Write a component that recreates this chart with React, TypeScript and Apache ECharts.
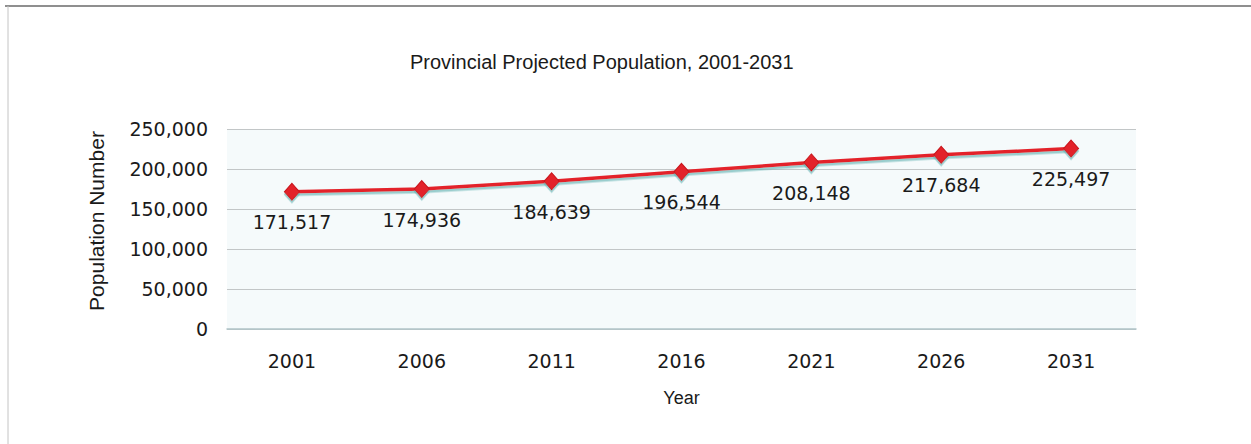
import React, { useEffect, useRef } from "react";
import * as echarts from "echarts";

const years: string[] = ["2001", "2006", "2011", "2016", "2021", "2026", "2031"];
const population: number[] = [171517, 174936, 184639, 196544, 208148, 217684, 225497];
const yTicks = { min: 0, max: 250000, interval: 50000 };
const titleText = "Provincial Projected Population, 2001-2031";
const yAxisName = "Population Number";
const xAxisName = "Year";

const fmt = (v: number) => v.toLocaleString("en-US");

export default function App() {
  const ref = useRef<HTMLDivElement>(null);
  useEffect(() => {
    document.body.style.margin = "0";
    const chart = echarts.init(ref.current!, null, { renderer: "svg" });
    chart.setOption({
      animation: false,
      backgroundColor: "#ffffff",
      title: {
        text: titleText,
        left: 405,
        top: 47,
        textStyle: {
          fontFamily: "Liberation Sans",
          fontSize: 20,
          fontWeight: "normal",
          color: "#1a1a1a",
        },
      },
      graphic: [
        {
          type: "line",
          shape: { x1: 5, y1: 6, x2: 1251, y2: 6 },
          style: { stroke: "#6a6a6a", lineWidth: 1.5 },
        },
        {
          type: "line",
          shape: { x1: 8, y1: 6, x2: 8, y2: 444 },
          style: { stroke: "#c4c4c4", lineWidth: 1 },
        },
      ],
      grid: {
        left: 227,
        right: 115,
        top: 129,
        bottom: 115,
        show: true,
        backgroundColor: "#f5fafb",
        borderWidth: 0,
      },
      xAxis: {
        type: "category",
        data: years,
        boundaryGap: true,
        name: xAxisName,
        nameLocation: "middle",
        nameGap: 60,
        nameTextStyle: {
          fontFamily: "Liberation Sans",
          fontSize: 18,
          color: "#1a1a1a",
        },
        axisTick: { show: false },
        axisLine: { show: true, lineStyle: { color: "#b0c4c8", width: 1.5 } },
        axisLabel: {
          margin: 22,
          fontFamily: "DejaVu Sans",
          fontSize: 19,
          color: "#1a1a1a",
        },
      },
      yAxis: {
        type: "value",
        min: yTicks.min,
        max: yTicks.max,
        interval: yTicks.interval,
        name: yAxisName,
        nameLocation: "middle",
        nameGap: 120,
        nameTextStyle: {
          fontFamily: "Liberation Sans",
          fontSize: 21,
          color: "#1a1a1a",
          padding: [0, 0, 0, 16],
        },
        axisLine: { show: false },
        axisTick: { show: false },
        splitLine: { show: true, lineStyle: { color: "#c2c6c7", width: 1 } },
        axisLabel: {
          margin: 19,
          fontFamily: "DejaVu Sans",
          fontSize: 19,
          color: "#1a1a1a",
          formatter: (v: number) => fmt(v),
        },
      },
      series: [
        {
          type: "line",
          data: population,
          symbol: "diamond",
          symbolSize: [15, 17],
          lineStyle: {
            color: "#e3232a",
            width: 3.5,
            shadowColor: "rgba(90,175,175,0.6)",
            shadowOffsetY: 2.5,
            shadowBlur: 1,
          },
          itemStyle: {
            color: "#e3232a",
            borderColor: "#c8151c",
            borderWidth: 1,
            shadowColor: "rgba(90,175,175,0.6)",
            shadowOffsetY: 2.5,
            shadowBlur: 1,
          },
          label: {
            show: true,
            position: "bottom",
            distance: 12,
            fontFamily: "DejaVu Sans",
            fontSize: 19,
            color: "#1a1a1a",
            formatter: (p: any) => fmt(p.value),
          },
        },
      ],
    });
    return () => chart.dispose();
  }, []);
  return <div ref={ref} style={{ width: 1251, height: 444 }} />;
}
